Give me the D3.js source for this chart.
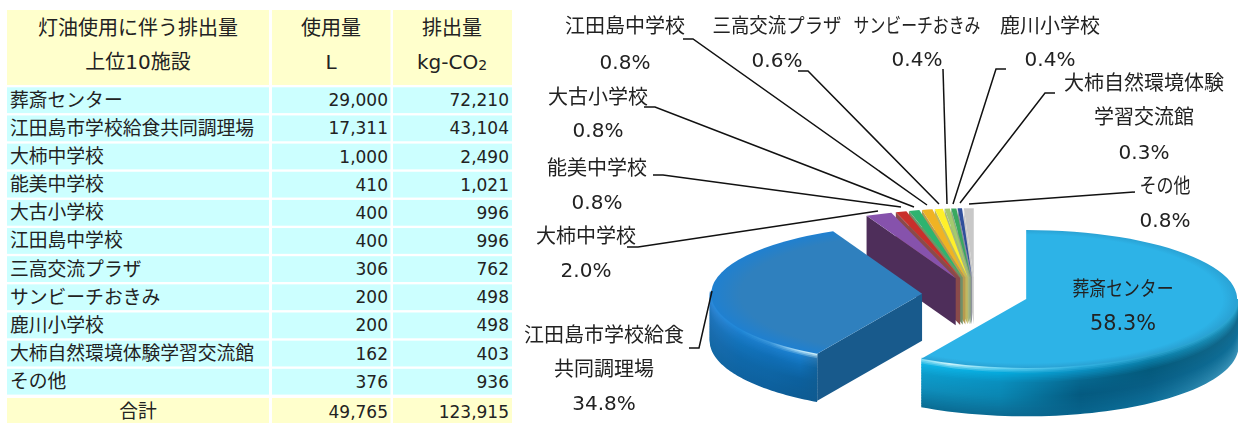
<!DOCTYPE html>
<html>
<head>
<meta charset="utf-8">
<script src="https://cdn.jsdelivr.net/npm/d3@7"></script>
<style>
html,body{margin:0;padding:0;background:#fff;overflow:hidden}
svg{display:block}
text{font-family:"DejaVu Sans","Noto Sans CJK JP",sans-serif;fill:#222}
</style>
</head>
<body>
<svg id="c" width="1238" height="423"></svg>
<script>
// ---- data ----
const facilities = ["葬斎センター","江田島市学校給食共同調理場","大柿中学校","能美中学校","大古小学校","江田島中学校","三高交流プラザ","サンビーチおきみ","鹿川小学校","大柿自然環境体験学習交流館","その他"];
const usage = [29000,17311,1000,410,400,400,306,200,200,162,376];
const emission = [72210,43104,2490,1021,996,996,762,498,498,403,936];
const totalLabel = "合計";
const totalUsage = 49765;
const totalEmission = 123915;
const headerTitle = ["灯油使用に伴う排出量","上位10施設"];
const headerUsage = ["使用量","L"];
const percents = ["58.3%","34.8%","2.0%","0.8%","0.8%","0.8%","0.6%","0.4%","0.4%","0.3%","0.8%"];
const labelLines = [["葬斎センター"],["江田島市学校給食","共同調理場"],["大柿中学校"],["能美中学校"],["大古小学校"],["江田島中学校"],["三高交流プラザ"],["サンビーチおきみ"],["鹿川小学校"],["大柿自然環境体験","学習交流館"],["その他"]];

// ---- styles / layout ----
const topColors = ["#2db3e7","#2f80be","#8652ac","#c9302c","#2fb36f","#f0b323","#fff02a","#a5c96e","#3aa860","#2f4f9b","#c8c8c8"];
const wallColors = ["#0b6b93","#185a8c","#4e2e5a","#8a4a4a","#6f8f68","#b89a50","#c0b860","#a8b880","#8fa880","#8a8f9a","#c8c8c8"];
const labelCenterX = [1123,604,586,597,598,625,777,917,1050,1144,1165];
const labelFirstY = [289,335,236,168,97,26,26,26,26,83,186];
const percentY = [323,403,270,202,130,62,60,59,59,152,220];
const labelFit = {0:101,6:129,7:127,10:51};
const labelStep = 34;
const leaders = [null,
 [[689,348],[699,348],[712,291]],
 [[627,247],[638,247],[878,211]],
 [[653,175],[663,175],[901,207]],
 [[644,107],[655,107],[914,207]],
 [[683,39],[693,39],[927,205]],
 [[798,71],[808,71],[939,204]],
 [[943,69],[947,204]],
 [[1006,69],[996,69],[953,204]],
 [[1055,93],[1045,93],[960,203]],
 [[1135,192],[969,204]]];
const pieCx = 975, pieCy = 294.5, rx = 211, ry = 69, explode = 0.251, depth = 47;

const svg = d3.select("#c");
const defs = svg.append("defs");

// ---- table ----
const colEdges = [[7,269],[272,390.5],[393,512]];
const rowTop = 87.3, rowPitch = 28.15, rowH = 25.8;
const tbl = svg.append("g");
const fmt = d3.format(",");
const headFill = "#ffffcc", rowFill = "#ccffff";
colEdges.forEach(c=>{
  tbl.append("rect").attr("x",c[0]).attr("y",10).attr("width",c[1]-c[0]).attr("height",75).attr("fill",headFill);
  tbl.selectAll(null).data(facilities).enter().append("rect")
    .attr("x",c[0]).attr("y",(d,i)=>rowTop+i*rowPitch).attr("width",c[1]-c[0]).attr("height",rowH).attr("fill",rowFill);
  tbl.append("rect").attr("x",c[0]).attr("y",398).attr("width",c[1]-c[0]).attr("height",25).attr("fill",headFill);
});
function t(g,x,y,str,size,anchor){
  return g.append("text").attr("x",x).attr("y",y).attr("font-size",size).attr("text-anchor",anchor||"middle").attr("dominant-baseline","central").text(str);
}
t(tbl,138,28,headerTitle[0],20);
t(tbl,138,62,headerTitle[1],20);
t(tbl,331,28,headerUsage[0],20);
t(tbl,331,62,headerUsage[1],20);
t(tbl,452,28,"排出量",20);
const co = t(tbl,452,62,"kg-CO",20);
co.append("tspan").attr("font-size",14).attr("dy",2.5).text("2");
facilities.forEach((f,i)=>{
  const y = rowTop+i*rowPitch+rowH/2;
  t(tbl,10,y,f,18.8,"start");
  t(tbl,388,y,fmt(usage[i]),17,"end");
  t(tbl,509,y,fmt(emission[i]),17,"end");
});
t(tbl,138,411,totalLabel,18.8);
t(tbl,388,412,fmt(totalUsage),17,"end");
t(tbl,509,412,fmt(totalEmission),17,"end");

// ---- 3D pie ----
const arcs = d3.pie().sort(null).value(d=>d)(usage);
const unitArc = d3.arc().innerRadius(0).outerRadius(1);
const sx = d3.scaleLinear().domain([-1,1]).range([-rx,rx]);
const sy = d3.scaleLinear().domain([-1,1]).range([-ry,ry]);
const pieG = svg.append("g").style("filter","blur(0.5px)");

function apex(a){
  const m = (a.startAngle+a.endAngle)/2;
  return [pieCx+sx(explode*Math.sin(m)), pieCy+sy(-explode*Math.cos(m))];
}
function rimPt(ap,ang,dy){ return [ap[0]+sx(Math.sin(ang)), ap[1]+sy(-Math.cos(ang))+(dy||0)]; }

// radial edge shading for the top faces
const edgeShade = [{i:0,c:"#2aa2d4",from:.93},{i:1,c:"#1f80d0",from:.86}];
edgeShade.forEach(e=>{
  const g = defs.append("radialGradient").attr("id","top"+e.i).attr("gradientUnits","userSpaceOnUse")
    .attr("cx",0).attr("cy",0).attr("r",1);
  g.append("stop").attr("offset",0).attr("stop-color",topColors[e.i]);
  g.append("stop").attr("offset",e.from).attr("stop-color",topColors[e.i]);
  g.append("stop").attr("offset",1).attr("stop-color",e.c);
});

// outer wall shading: one list per column (left to right), each listing wall colours top to bottom
const rows = [0,.1,.3,.6,1];
const wallShade = {
 0:{cols:[921,950,1000,1080,1150,1237], m:[
   ["#7fdcf4","#11b3e4","#0c9ccb","#0f8fbd","#0a6d94"],
   ["#c8f4fc","#0cb0e2","#0a98c8","#0d8cb8","#0a6c94"],
   ["#6ad4f2","#05a9dc","#0a8fbe","#0a86b2","#0b6b93"],
   ["#30b0e0","#0a8fc0","#06678f","#045a80","#07638c"],
   ["#2aa3d0","#0a7ea8","#045a7c","#085e85","#0d6e98"],
   ["#2aa5d2","#1d8db5","#12698d","#0f6f98","#3a93b8"]]},
 1:{cols:[711,740,770,800,820], m:[
   ["#2a88d8","#2a80cc","#1e74ba","#1a6cae","#1268a4"],
   ["#2088d8","#1a7cca","#1272ba","#0f68aa","#0f62a0"],
   ["#3c98dc","#1a7cca","#0f6eb6","#0e66a6","#0d5f9c"],
   ["#b0e0f8","#1a80d0","#1070b8","#0c609e","#0d5c94"],
   ["#d0f0fa","#2a74ab","#0f5f98","#0f5c92","#0f5a90"]]}
};

function wallRim(i,a,ap){
  const spec = wallShade[i];
  const a0 = i===0 ? Math.PI/2 : a.startAngle;
  const a1 = i===0 ? a.endAngle : 3*Math.PI/2+0.03;
  const N = 30;
  const steps = d3.range(0,61).map(k=>a0+(a1-a0)*k/60);
  const line = d3.line();
  const xScale = d3.scaleLinear().domain([spec.cols[0],spec.cols[spec.cols.length-1]]).range([0,1]);
  d3.range(N,-1,-1).forEach(k=>{
    const tt = k/N;
    const id = "w"+i+"_"+k;
    const grad = defs.append("linearGradient").attr("id",id).attr("gradientUnits","userSpaceOnUse")
      .attr("x1",spec.cols[0]).attr("x2",spec.cols[spec.cols.length-1]).attr("y1",0).attr("y2",0);
    spec.cols.forEach((cx,ci)=>{
      const rowScale = d3.scaleLinear().domain(rows).range(spec.m[ci]).interpolate(d3.interpolateRgb);
      grad.append("stop").attr("offset",xScale(cx)).attr("stop-color",rowScale(tt));
    });
    pieG.append("path")
      .attr("d",line(steps.map(s=>rimPt(ap,s,tt*depth))))
      .attr("fill","none").attr("stroke","url(#"+id+")").attr("stroke-width",depth/N+1.2);
  });
}
function edgeWall(i,a,ap){
  const ang = a.startAngle;
  const r = rimPt(ap,ang,0), r2 = rimPt(ap,ang,depth);
  pieG.append("path")
    .attr("d",d3.line()([ap,r,r2,[ap[0],ap[1]+depth]])+"Z")
    .attr("fill",wallColors[i]);
}
function topFace(i,a,ap){
  pieG.append("path")
    .attr("transform","translate("+ap[0]+","+ap[1]+") scale("+rx+","+ry+")")
    .attr("d",unitArc(a))
    .attr("fill", i<2 ? "url(#top"+i+")" : topColors[i]);
}
// painter's order: back fan from right to left, then the two big slices
d3.range(arcs.length-1,1,-1).forEach(i=>{
  const ap = apex(arcs[i]);
  edgeWall(i,arcs[i],ap);
  topFace(i,arcs[i],ap);
});
[1,0].forEach(i=>{
  const ap = apex(arcs[i]);
  if(i===1) edgeWall(i,arcs[i],ap);
  wallRim(i,arcs[i],ap);
  topFace(i,arcs[i],ap);
});

// ---- leader lines ----
const lg = svg.append("g");
leaders.forEach(l=>{
  if(!l) return;
  lg.append("path").attr("d",d3.line()(l)).attr("fill","none").attr("stroke","#111").attr("stroke-width",1.5);
});

// ---- labels ----
const tg = svg.append("g");
labelLines.forEach((lines,i)=>{
  lines.forEach((s,k)=>{
    const y = labelFirstY[i]+k*labelStep;
    const el = t(tg,0,0,s,20);
    const f = labelFit[i] ? labelFit[i]/el.node().getComputedTextLength() : 1;
    el.attr("transform","translate("+labelCenterX[i]+","+y+") scale("+f+",1)");
  });
  t(tg,labelCenterX[i],percentY[i],percents[i],i===0?20.8:20);
});
</script>
</body>
</html>
